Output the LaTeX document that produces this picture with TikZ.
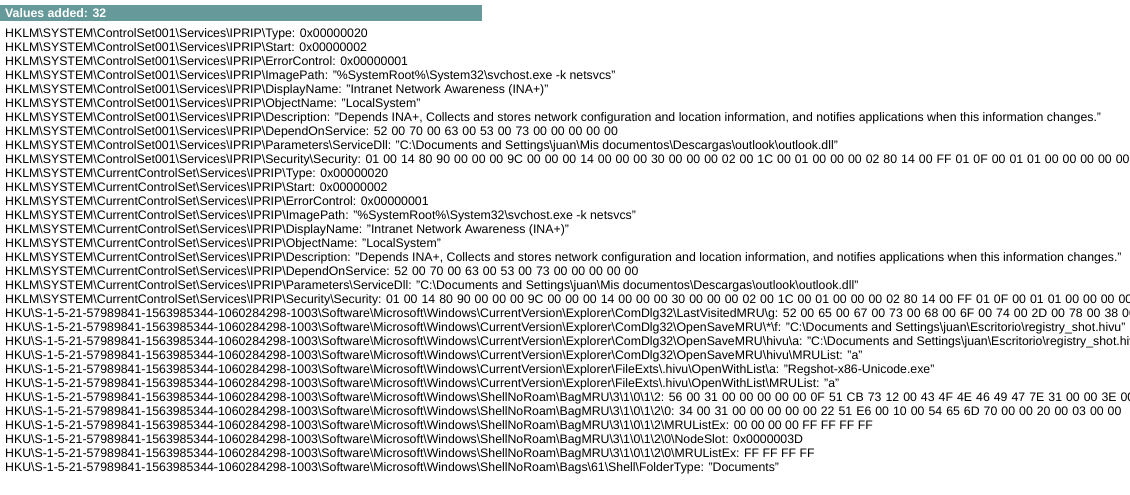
\documentclass[tikz,border=0pt]{standalone}
\usepackage{fontspec}
\setmainfont{Liberation Sans}
\definecolor{hdr}{HTML}{669999}
\newcommand{\bs}{\textbackslash}
\newcommand{\cso}{HKLM\bs SYSTEM\bs ControlSet001\bs Services\bs IPRIP\bs}
\newcommand{\ccs}{HKLM\bs SYSTEM\bs CurrentControlSet\bs Services\bs IPRIP\bs}
\newcommand{\hku}{HKU\bs S-1-5-21-57989841-1563985344-1060284298-1003\bs Software\bs Microsoft\bs Windows\bs}
\newcommand{\descr}{Description: "Depends INA+, Collects and stores network configuration and location information, and notifies applications when this information changes."}
\newcommand{\hx}[1]{{\spaceskip=\dimexpr\fontdimen2\font+0.6pt\relax #1}}
\newcommand{\secb}{\hx{01 00 14 80 90 00 00 00 9C 00 00 00 14 00 00 00 30 00 00 00 02 00 1C 00 01 00 00 00 02 80 14 00 FF 01 0F 00 01 01 00 00 00 00 00}}
\newlength\reflen
\newcommand{\linefont}{\fontsize{\fs pt}{\fs pt}\selectfont}
\begin{document}
\settowidth{\reflen}{\fontsize{10pt}{12pt}\selectfont \cso\descr}%
\pgfmathsetmacro\fs{10*1096/\reflen}%
\begin{tikzpicture}[x=1pt,y=-1pt,
  ln/.style={anchor=base west, inner sep=0pt, font=\linefont, text=black},
  hd/.style={anchor=base west, inner sep=0pt, font=\linefont\bfseries, text=white}]
\useasboundingbox (0,0) rectangle (1130,495);
\clip (0,0) rectangle (1130,495);
\fill[white] (0,0) rectangle (1130,495);
\fill[hdr] (0,5) rectangle (482,21);
\node[hd] (h) at (5,17.5) {Values added: 32};
\node[ln] (l1) at (5,37.5) {\cso Type: 0x00000020};
\node[ln] (l2) at (5,51.5) {\cso Start: 0x00000002};
\node[ln] (l3) at (5,65.5) {\cso ErrorControl: 0x00000001};
\node[ln] (l4) at (5,79.5) {\cso ImagePath: "\%SystemRoot\%\bs System32\bs svchost.exe -k netsvcs"};
\node[ln] (l5) at (5,93.5) {\cso DisplayName: "Intranet Network Awareness (INA+)"};
\node[ln] (l6) at (5,107.5) {\cso ObjectName: "LocalSystem"};
\node[ln] (l7) at (5,121.5) {\cso\descr};
\node[ln] (l8) at (5,135.5) {\cso DependOnService: \hx{52 00 70 00 63 00 53 00 73 00 00 00 00 00}};
\node[ln] (l9) at (5,149.5) {\cso Parameters\bs ServiceDll: "C:\bs Documents and Settings\bs juan\bs Mis documentos\bs Descargas\bs outlook\bs outlook.dll"};
\node[ln] (l10) at (5,163.5) {\cso Security\bs Security: \secb};
\node[ln] (l11) at (5,177.5) {\ccs Type: 0x00000020};
\node[ln] (l12) at (5,191.5) {\ccs Start: 0x00000002};
\node[ln] (l13) at (5,205.5) {\ccs ErrorControl: 0x00000001};
\node[ln] (l14) at (5,219.5) {\ccs ImagePath: "\%SystemRoot\%\bs System32\bs svchost.exe -k netsvcs"};
\node[ln] (l15) at (5,233.5) {\ccs DisplayName: "Intranet Network Awareness (INA+)"};
\node[ln] (l16) at (5,247.5) {\ccs ObjectName: "LocalSystem"};
\node[ln] (l17) at (5,261.5) {\ccs\descr};
\node[ln] (l18) at (5,275.5) {\ccs DependOnService: \hx{52 00 70 00 63 00 53 00 73 00 00 00 00 00}};
\node[ln] (l19) at (5,289.5) {\ccs Parameters\bs ServiceDll: "C:\bs Documents and Settings\bs juan\bs Mis documentos\bs Descargas\bs outlook\bs outlook.dll"};
\node[ln] (l20) at (5,303.5) {\ccs Security\bs Security: \secb};
\node[ln] (l21) at (5,317.5) {\hku CurrentVersion\bs Explorer\bs ComDlg32\bs LastVisitedMRU\bs g: \hx{52 00 65 00 67 00 73 00 68 00 6F 00 74 00 2D 00 78 00 38 00}};
\node[ln] (l22) at (5,331.5) {\hku CurrentVersion\bs Explorer\bs ComDlg32\bs OpenSaveMRU\bs *\bs f: "C:\bs Documents and Settings\bs juan\bs Escritorio\bs registry\_shot.hivu"};
\node[ln] (l23) at (5,345.5) {\hku CurrentVersion\bs Explorer\bs ComDlg32\bs OpenSaveMRU\bs hivu\bs a: "C:\bs Documents and Settings\bs juan\bs Escritorio\bs registry\_shot.hivu"};
\node[ln] (l24) at (5,359.5) {\hku CurrentVersion\bs Explorer\bs ComDlg32\bs OpenSaveMRU\bs hivu\bs MRUList: "a"};
\node[ln] (l25) at (5,373.5) {\hku CurrentVersion\bs Explorer\bs FileExts\bs .hivu\bs OpenWithList\bs a: "Regshot-x86-Unicode.exe"};
\node[ln] (l26) at (5,387.5) {\hku CurrentVersion\bs Explorer\bs FileExts\bs .hivu\bs OpenWithList\bs MRUList: "a"};
\node[ln] (l27) at (5,401.5) {\hku ShellNoRoam\bs BagMRU\bs 3\bs 1\bs 0\bs 1\bs 2: \hx{56 00 31 00 00 00 00 00 0F 51 CB 73 12 00 43 4F 4E 46 49 47 7E 31 00 00 3E 00}};
\node[ln] (l28) at (5,415.5) {\hku ShellNoRoam\bs BagMRU\bs 3\bs 1\bs 0\bs 1\bs 2\bs 0: \hx{34 00 31 00 00 00 00 00 22 51 E6 00 10 00 54 65 6D 70 00 00 20 00 03 00 00}};
\node[ln] (l29) at (5,429.5) {\hku ShellNoRoam\bs BagMRU\bs 3\bs 1\bs 0\bs 1\bs 2\bs MRUListEx: 00 00 00 00 FF FF FF FF};
\node[ln] (l30) at (5,443.5) {\hku ShellNoRoam\bs BagMRU\bs 3\bs 1\bs 0\bs 1\bs 2\bs 0\bs NodeSlot: 0x0000003D};
\node[ln] (l31) at (5,457.5) {\hku ShellNoRoam\bs BagMRU\bs 3\bs 1\bs 0\bs 1\bs 2\bs 0\bs MRUListEx: FF FF FF FF};
\node[ln] (l32) at (5,471.5) {\hku ShellNoRoam\bs Bags\bs 61\bs Shell\bs FolderType: "Documents"};
\end{tikzpicture}
\end{document}
